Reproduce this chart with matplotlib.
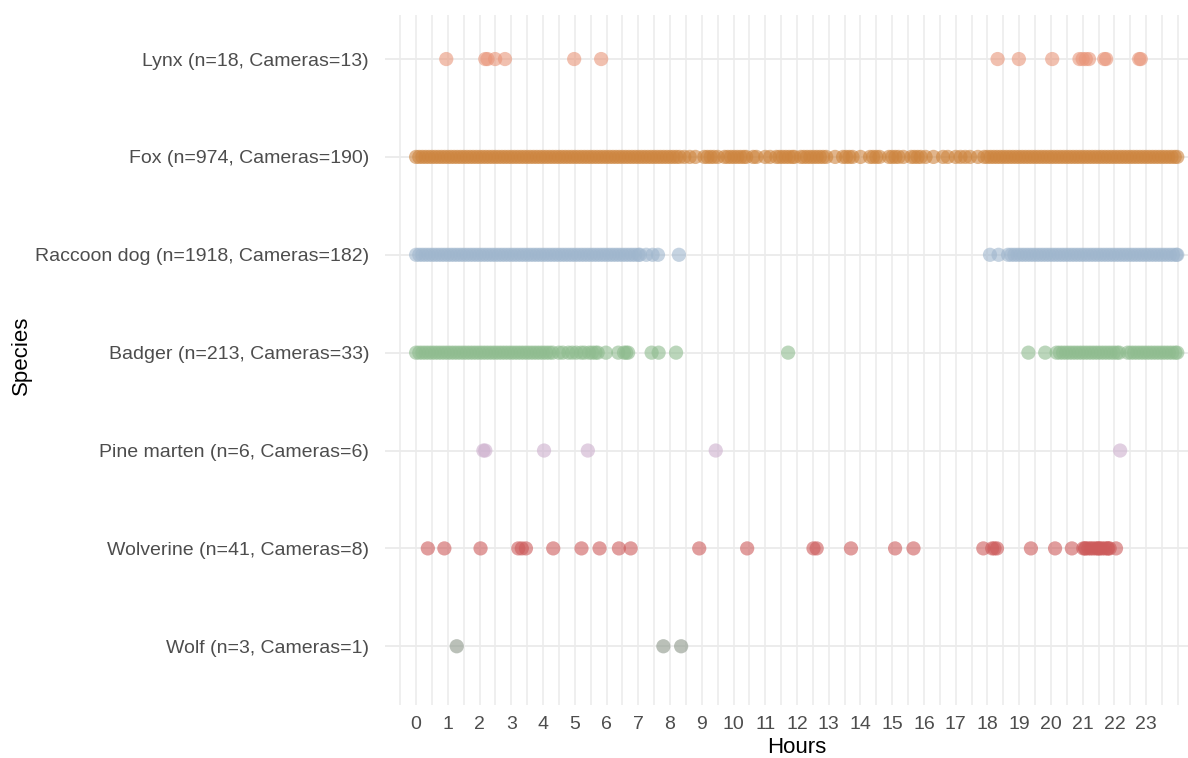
import matplotlib
matplotlib.use("Agg")
import matplotlib.pyplot as plt
import numpy as np

plt.rcParams['font.family'] = ['Liberation Sans', 'DejaVu Sans']

# species from bottom to top
species = ["Wolf (n=3, Cameras=1)",
           "Wolverine (n=41, Cameras=8)",
           "Pine marten (n=6, Cameras=6)",
           "Badger (n=213, Cameras=33)",
           "Raccoon dog (n=1918, Cameras=182)",
           "Fox (n=974, Cameras=190)",
           "Lynx (n=18, Cameras=13)"]

colors = ["#8C978A", "#CD5C5C", "#CDB0CE", "#8FBC8F", "#9FB6CD", "#CD853F", "#E9967A"]

# hours of detections (dense stretches thinned)
wolf = [1.28, 7.79, 8.35]

wolverine = [0.37, 0.89, 2.03, 3.22, 3.33, 3.46, 4.32, 5.21, 5.78, 6.39, 6.76,
             8.92, 10.43, 12.52, 12.62, 13.70, 15.09, 15.67, 17.87, 18.15, 18.22,
             18.30, 19.37, 20.13, 20.66, 21.02, 21.07, 21.1, 21.18, 21.25, 21.32,
             21.4, 21.47, 21.5, 21.55, 21.62, 21.7, 21.78, 21.8, 21.85, 22.05]

pine_marten = [2.12, 2.18, 4.03, 5.41, 9.44, 22.18]

badger = [0.0, 0.1, 0.2, 0.3, 0.4, 0.5, 0.6, 0.7, 0.8, 0.9,
          1.0, 1.1, 1.2, 1.3, 1.4, 1.5, 1.6, 1.7, 1.8, 1.9,
          2.0, 2.1, 2.2, 2.3, 2.4, 2.5, 2.6, 2.7, 2.8, 2.9,
          3.0, 3.1, 3.2, 3.3, 3.4, 3.5, 3.6, 3.7, 3.8, 3.9,
          4.0, 4.1, 4.2, 4.3,
          4.5, 4.62, 4.8, 4.92, 5.05, 5.2, 5.3, 5.45, 5.55, 5.65, 5.72,
          5.98, 6.37, 6.55, 6.62, 6.68, 7.42, 7.64, 8.19, 11.72, 19.29, 19.82,
          20.18, 20.28, 20.38, 20.48, 20.58, 20.68, 20.78, 20.88, 20.98, 21.08,
          21.18, 21.28, 21.38, 21.48, 21.58, 21.68, 21.78, 21.88, 21.98, 22.08,
          22.15, 22.42, 22.52, 22.62, 22.72, 22.82, 22.92, 23.02, 23.12, 23.22,
          23.32, 23.42, 23.52, 23.62, 23.72, 23.82, 23.92, 23.98]

raccoon_dog = [0.0, 0.1, 0.2, 0.3, 0.4, 0.5, 0.6, 0.7, 0.8, 0.9,
               1.0, 1.1, 1.2, 1.3, 1.4, 1.5, 1.6, 1.7, 1.8, 1.9,
               2.0, 2.1, 2.2, 2.3, 2.4, 2.5, 2.6, 2.7, 2.8, 2.9,
               3.0, 3.1, 3.2, 3.3, 3.4, 3.5, 3.6, 3.7, 3.8, 3.9,
               4.0, 4.1, 4.2, 4.3, 4.4, 4.5, 4.6, 4.7, 4.8, 4.9,
               5.0, 5.1, 5.2, 5.3, 5.4, 5.5, 5.6, 5.7, 5.8, 5.9,
               6.0, 6.1, 6.2, 6.3, 6.4, 6.5, 6.6, 6.7, 6.8, 6.9,
               7.0, 7.05, 7.25, 7.45, 7.62, 8.28, 18.08, 18.35,
               18.65, 18.75, 18.85, 18.95, 19.05, 19.15, 19.25, 19.35, 19.45,
               19.55, 19.65, 19.75, 19.85, 19.95, 20.05, 20.15, 20.25, 20.35,
               20.45, 20.55, 20.65, 20.75, 20.85, 20.95, 21.05, 21.15, 21.25,
               21.35, 21.45, 21.55, 21.65, 21.75, 21.85, 21.95, 22.05, 22.15,
               22.25, 22.35, 22.45, 22.55, 22.65, 22.75, 22.85, 22.95, 23.05,
               23.15, 23.25, 23.35, 23.45, 23.55, 23.65, 23.75, 23.85, 23.95,
               23.98]

fox = [0.0, 0.1, 0.2, 0.3, 0.4, 0.5, 0.6, 0.7, 0.8, 0.9,
       1.0, 1.1, 1.2, 1.3, 1.4, 1.5, 1.6, 1.7, 1.8, 1.9,
       2.0, 2.1, 2.2, 2.3, 2.4, 2.5, 2.6, 2.7, 2.8, 2.9,
       3.0, 3.1, 3.2, 3.3, 3.4, 3.5, 3.6, 3.7, 3.8, 3.9,
       4.0, 4.1, 4.2, 4.3, 4.4, 4.5, 4.6, 4.7, 4.8, 4.9,
       5.0, 5.1, 5.2, 5.3, 5.4, 5.5, 5.6, 5.7, 5.8, 5.9,
       6.0, 6.1, 6.2, 6.3, 6.4, 6.5, 6.6, 6.7, 6.8, 6.9,
       7.0, 7.1, 7.2, 7.3, 7.4, 7.5, 7.6, 7.7, 7.8, 7.9,
       8.0, 8.1, 8.2, 8.3,
       8.45, 8.62, 8.8, 9.08, 9.18, 9.28, 9.38, 9.5, 9.72, 9.82, 9.92, 10.02,
       10.12, 10.22, 10.32, 10.4, 10.62, 10.72, 11.0, 11.15, 11.35, 11.45,
       11.55, 11.65, 11.75, 11.85, 11.92, 12.12, 12.22, 12.32, 12.42, 12.52,
       12.62, 12.72, 12.82, 12.92, 13.2, 13.45, 13.55, 13.65, 13.75, 14.0,
       14.3, 14.4, 14.5, 14.6, 14.9, 15.0, 15.1, 15.2, 15.35, 15.6, 15.7,
       15.8, 15.9, 16.05, 16.3, 16.6, 16.75, 17.0, 17.15, 17.3, 17.45, 17.7,
       17.9, 18.0, 18.1, 18.2, 18.3, 18.4, 18.5, 18.6, 18.7, 18.8, 18.9,
       19.0, 19.1, 19.2, 19.3, 19.4, 19.5, 19.6, 19.7, 19.8, 19.9,
       20.0, 20.1, 20.2, 20.3, 20.4, 20.5, 20.6, 20.7, 20.8, 20.9,
       21.0, 21.1, 21.2, 21.3, 21.4, 21.5, 21.6, 21.7, 21.8, 21.9,
       22.0, 22.1, 22.2, 22.3, 22.4, 22.5, 22.6, 22.7, 22.8, 22.9,
       23.0, 23.1, 23.2, 23.3, 23.4, 23.5, 23.6, 23.7, 23.8, 23.9, 23.98]

lynx = [0.95, 2.18, 2.25, 2.49, 2.80, 4.98, 5.83, 18.32, 18.99, 20.04, 20.9,
        21.0, 21.1, 21.2, 21.68, 21.74, 22.78, 22.83]

hours = [wolf, wolverine, pine_marten, badger, raccoon_dog, fox, lynx]
hour_ticks = list(range(24))

fig = plt.figure(figsize=(11.88, 7.58), dpi=100)
ax = fig.add_axes([385 / 1188, 53 / 758, 824 / 1188, 690 / 758])

for i, (h, c) in enumerate(zip(hours, colors)):
    ax.scatter(h, [i + 1] * len(h), s=105, color=c, alpha=0.6,
               edgecolors='none', zorder=3)

# ggplot minimal-like grid
for g in np.arange(-1, 24.5, 0.5):
    ax.axvline(g, color='#EBEBEB', lw=1.1, zorder=1)
for i in range(len(species)):
    ax.axhline(i + 1, color='#EBEBEB', lw=1.3, zorder=1)

ax.set_xlim(-0.98, 24.98)
ax.set_ylim(0.4, 7.45)
ax.set_xticks(hour_ticks)
ax.set_xticklabels([str(t) for t in hour_ticks])
ax.set_yticks(range(1, len(species) + 1))
ax.set_yticklabels(species)
ax.tick_params(length=0, labelsize=14, labelcolor='#4D4D4D')
ax.tick_params(axis='y', pad=11.5)
ax.tick_params(axis='x', pad=8)
for s in ax.spines.values():
    s.set_visible(False)

ax.set_xlabel("Hours", fontsize=16, labelpad=3)
fig.text(21 / 1188, 1 - 355 / 758, "Species", fontsize=16, rotation=90,
         ha='center', va='center')

fig.savefig("out.png", dpi=100)
